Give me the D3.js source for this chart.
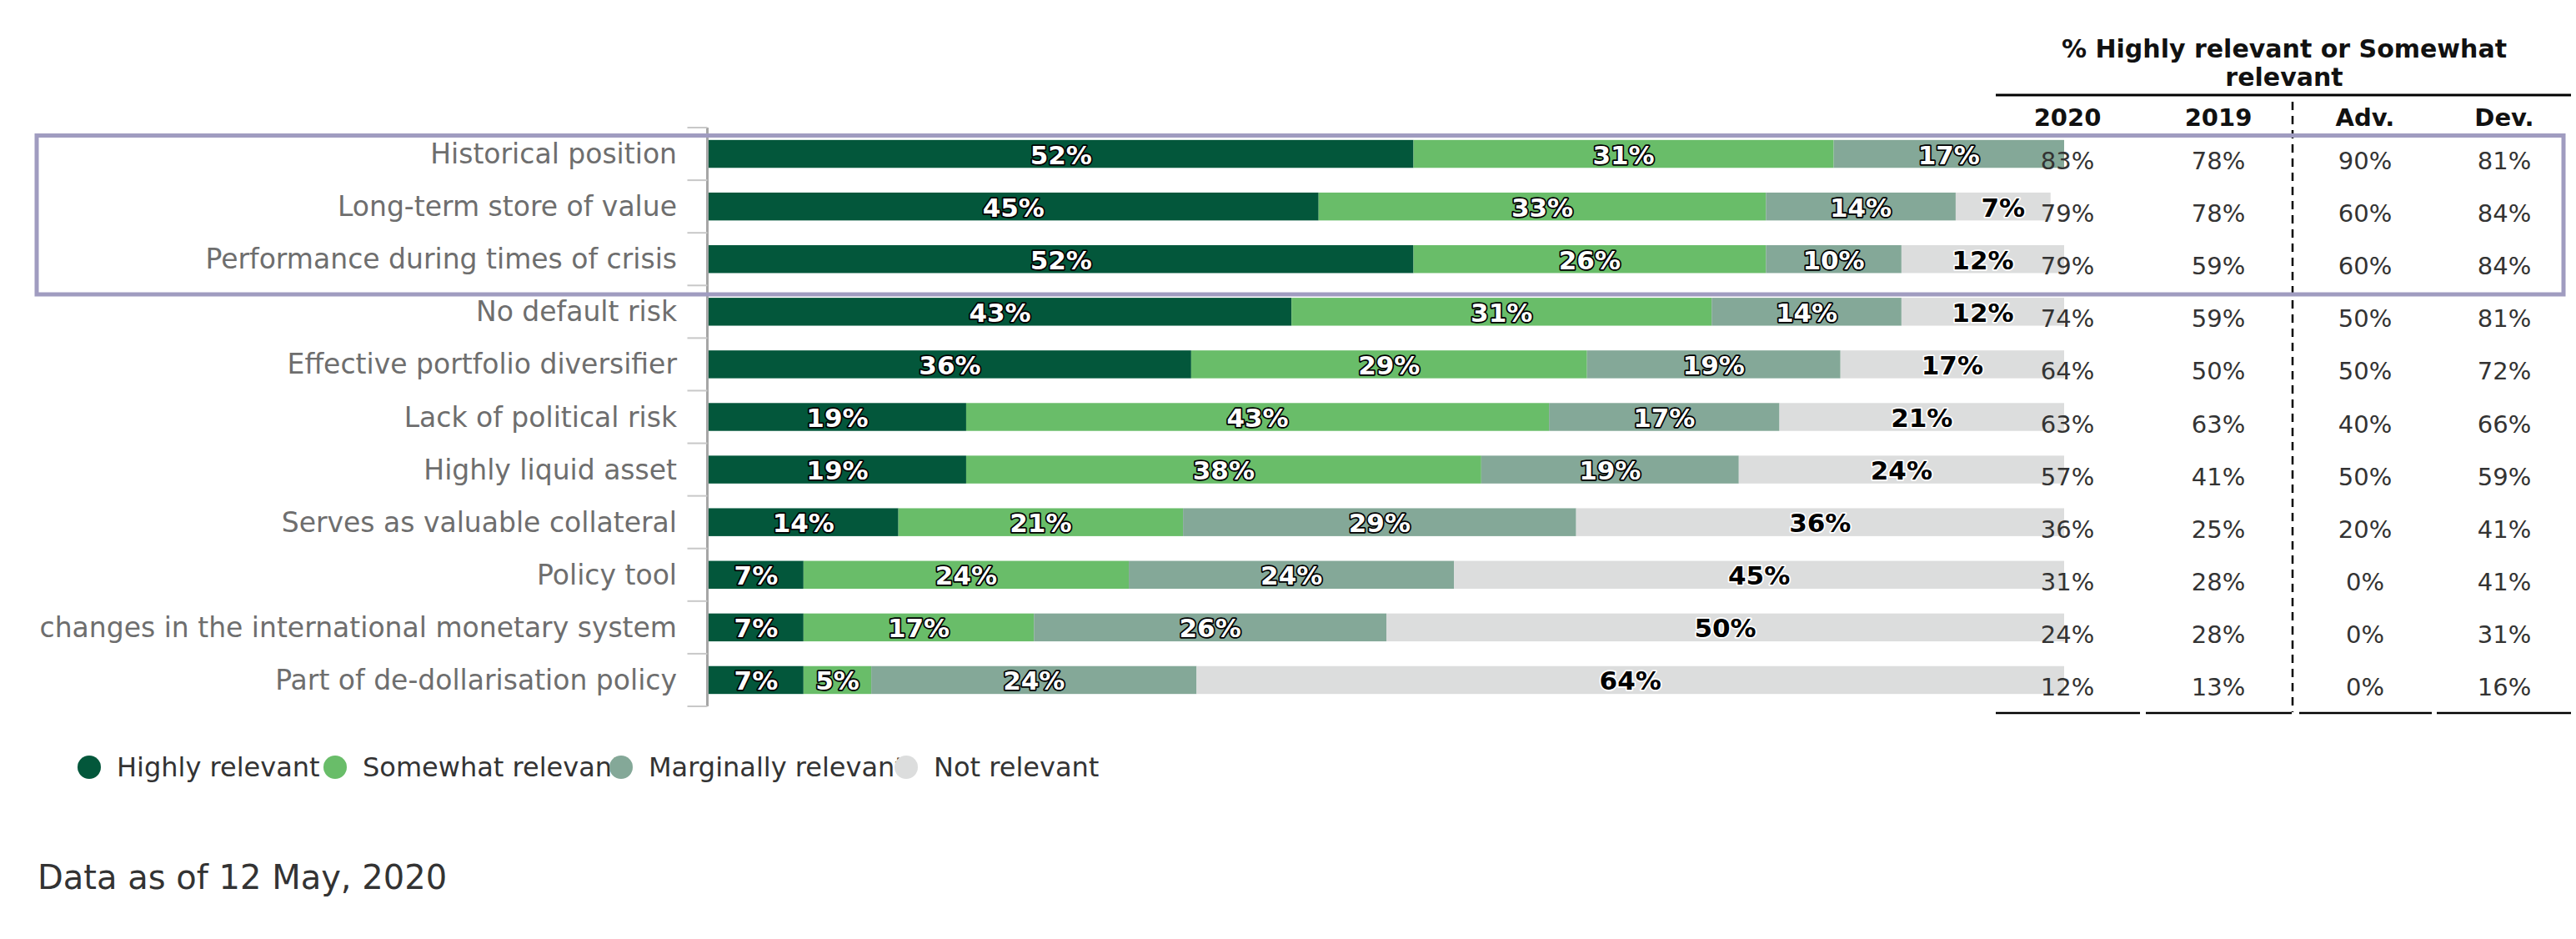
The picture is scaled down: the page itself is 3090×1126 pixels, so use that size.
<!DOCTYPE html>
<html>
<head>
<meta charset="utf-8">
<script src="https://cdn.jsdelivr.net/npm/d3@7"></script>
<style>
  html, body { margin: 0; padding: 0; background: #fff; }
  svg { display: block; font-family: "DejaVu Sans", sans-serif; }
</style>
</head>
<body>
<svg id="chart" width="3090" height="1126"></svg>
<script>
// ---------------- DATA ----------------
const categories = [
  "Historical position",
  "Long-term store of value",
  "Performance during times of crisis",
  "No default risk",
  "Effective portfolio diversifier",
  "Lack of political risk",
  "Highly liquid asset",
  "Serves as valuable collateral",
  "Policy tool",
  "changes in the international monetary system",
  "Part of de-dollarisation policy"
];
const seriesNames = ["Highly relevant", "Somewhat relevant", "Marginally relevant", "Not relevant"];
const highlyRelevant     = [52, 45, 52, 43, 35.6, 19, 19, 14, 7, 7, 7];
const somewhatRelevant   = [31, 33, 26, 31, 29.2, 43, 38, 21, 24, 17, 5];
const marginallyRelevant = [17, 14, 10, 14, 18.7, 17, 19, 29, 24, 26, 24];
const notRelevant        = [0, 7, 12, 12, 16.5, 21, 24, 36, 45, 50, 64];

const tableColumns = ["2020", "2019", "Adv.", "Dev."];
const col2020 = [83, 79, 79, 74, 64, 63, 57, 36, 31, 24, 12];
const col2019 = [78, 78, 59, 59, 50, 63, 41, 25, 28, 28, 13];
const colAdv  = [90, 60, 60, 50, 50, 40, 50, 20, 0, 0, 0];
const colDev  = [81, 84, 84, 81, 72, 66, 59, 41, 41, 31, 16];

const tableTitle = ["% Highly relevant or Somewhat", "relevant"];
const footnote = "Data as of 12 May, 2020";

// ---------------- STYLE ----------------
const colors = ["#03573b", "#69bd69", "#84a898", "#dcdddd"];
const svg = d3.select("#chart");

const x = d3.scaleLinear().domain([0, 100]).range([850, 2476]);
const y = d3.scaleBand().domain(categories).range([153, 847]).paddingInner(0.47).paddingOuter(0.235);

const rows = categories.map((c, i) => ({
  cat: c,
  vals: [highlyRelevant[i], somewhatRelevant[i], marginallyRelevant[i], notRelevant[i]]
}));

// Bars
rows.forEach(r => {
  let acc = 0;
  r.vals.forEach((v, k) => {
    const x0 = acc; acc += v;
    if (v <= 0) return;
    svg.append("rect")
      .attr("x", x(x0)).attr("y", y(r.cat))
      .attr("width", x(acc) - x(x0)).attr("height", y.bandwidth())
      .attr("fill", colors[k]);
  });
});

// Y axis (band boundaries ticks)
const axisX = 848.5;
const bounds = categories.map(c => y(c) - y.step() * y.paddingInner() / 2);
bounds.push(y(categories[categories.length - 1]) + y.bandwidth() + y.step() * y.paddingInner() / 2);
svg.append("line").attr("x1", axisX).attr("x2", axisX)
  .attr("y1", bounds[0]).attr("y2", bounds[bounds.length - 1])
  .attr("stroke", "#a6a6a6").attr("stroke-width", 3);
bounds.forEach(b => {
  svg.append("line").attr("x1", axisX - 24).attr("x2", axisX)
    .attr("y1", b).attr("y2", b).attr("stroke", "#c8c8c8").attr("stroke-width", 2);
});

// Category labels
svg.selectAll("text.cat").data(categories).join("text")
  .attr("class", "cat")
  .attr("x", 812).attr("y", d => y(d) + y.bandwidth() / 2)
  .attr("text-anchor", "end").attr("dominant-baseline", "central")
  .attr("font-size", 33).attr("fill", "#6e6e6e")
  .text(d => d);

// Segment labels
rows.forEach(r => {
  let acc = 0;
  r.vals.forEach((v, k) => {
    const x0 = acc; acc += v;
    if (v <= 0) return;
    const last = k === 3;
    svg.append("text")
      .attr("x", (x(x0) + x(acc)) / 2).attr("y", y(r.cat) + y.bandwidth() / 2 + 1)
      .attr("text-anchor", "middle").attr("dominant-baseline", "central")
      .attr("font-size", 31).attr("font-weight", "bold")
      .attr("fill", last ? "#000" : "#fff")
      .attr("stroke", last ? "#fff" : "#000").attr("stroke-width", 3.5)
      .attr("stroke-linejoin", "round")
      .attr("paint-order", "stroke")
      .text(Math.round(v) + "%");
  });
});

// ---------------- TABLE ----------------
const colX = [2480, 2661, 2837, 3004];
const colData = [col2020, col2019, colAdv, colDev];

svg.selectAll("text.ttl").data(tableTitle).join("text")
  .attr("class", "ttl")
  .attr("x", 2740).attr("y", (d, i) => 58 + i * 34)
  .attr("text-anchor", "middle").attr("dominant-baseline", "central")
  .attr("font-size", 30).attr("font-weight", "bold").attr("fill", "#111")
  .text(d => d);

svg.append("line").attr("x1", 2394).attr("x2", 3084).attr("y1", 114).attr("y2", 114)
  .attr("stroke", "#000").attr("stroke-width", 3);

svg.selectAll("text.colh").data(tableColumns).join("text")
  .attr("class", "colh")
  .attr("x", (d, i) => colX[i]).attr("y", 141)
  .attr("text-anchor", "middle").attr("dominant-baseline", "central")
  .attr("font-size", 29).attr("font-weight", "bold").attr("fill", "#111")
  .text(d => d);

colData.forEach((arr, ci) => {
  svg.selectAll("text.cv" + ci).data(arr).join("text")
    .attr("class", "cv" + ci)
    .attr("x", colX[ci]).attr("y", (d, i) => y(categories[i]) + y.bandwidth() / 2 + 8.5)
    .attr("text-anchor", "middle").attr("dominant-baseline", "central")
    .attr("font-size", 29).attr("fill", "#333")
    .text(d => d + "%");
});

svg.append("line").attr("x1", 2750).attr("x2", 2750).attr("y1", 122).attr("y2", 854)
  .attr("stroke", "#000").attr("stroke-width", 2.5).attr("stroke-dasharray", "10,7");

[[2394, 2567], [2574, 2749], [2758, 2917], [2923, 3084]].forEach(s => {
  svg.append("line").attr("x1", s[0]).attr("x2", s[1]).attr("y1", 855).attr("y2", 855)
    .attr("stroke", "#000").attr("stroke-width", 2.5);
});

// Highlight box
svg.append("rect").attr("x", 44).attr("y", 162.5).attr("width", 3075 - 44).attr("height", 353 - 162.5)
  .attr("fill", "none").attr("stroke", "#a09cc0").attr("stroke-width", 5);

// ---------------- LEGEND ----------------
const legendX = [107, 402, 745, 1087];
seriesNames.forEach((n, i) => {
  svg.append("text").attr("x", legendX[i] + 33).attr("y", 920)
    .attr("dominant-baseline", "central").attr("font-size", 32).attr("fill", "#333")
    .text(n);
});
seriesNames.forEach((n, i) => {
  svg.append("circle").attr("cx", legendX[i]).attr("cy", 920).attr("r", 14).attr("fill", colors[i]);
});

// Footnote
svg.append("text").attr("x", 45).attr("y", 1052).attr("dominant-baseline", "central")
  .attr("font-size", 40).attr("fill", "#333").text(footnote);
</script>
</body>
</html>
